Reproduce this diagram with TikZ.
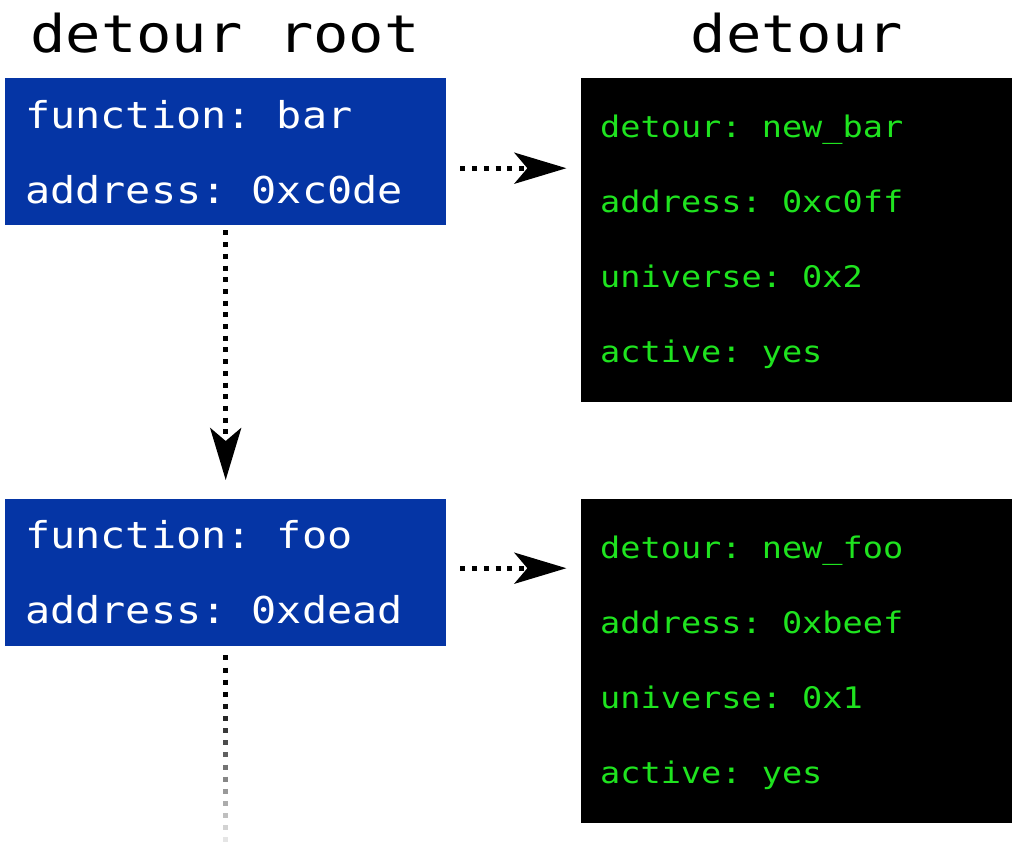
\documentclass[tikz,border=0pt]{standalone}
\usepackage{fontspec}
\setmonofont[FakeStretch=1.13]{DejaVu Sans Mono}
\usepackage{tikz}
\usetikzlibrary{arrows.meta}

\definecolor{rootblue}{HTML}{0535A5}
\definecolor{termgreen}{HTML}{1FE31F}

\tikzset{
	rootbox/.style={fill=rootblue, anchor=north west, inner sep=0pt,
		minimum width=441pt, minimum height=147pt},
	hookbox/.style={fill=black, anchor=north west, inner sep=0pt,
		minimum width=431pt, minimum height=324pt},
	headline/.style={font=\fontsize{52}{60}\selectfont\ttfamily, anchor=base, inner sep=0pt},
	roottext/.style={font=\fontsize{37}{44}\selectfont\ttfamily, text=white,
		anchor=base west, inner sep=0pt},
	hooktext/.style={font=\fontsize{29.7}{36}\selectfont\ttfamily, text=termgreen,
		anchor=base west, inner sep=0pt},
	link/.style={line width=5pt, dash pattern=on 5pt off 6.7pt,
		-{Stealth[length=52pt,width=31pt,inset=13pt]}}
}

\begin{document}
\begin{tikzpicture}[x=1pt,y=-1pt]
	\useasboundingbox (0,0) rectangle (1012,841);

	% column heads
	\node[headline] (roothead) at (225,52) {detour root};
	\node[headline] (hookhead) at (797,52) {detour};

	% detour roots
	\node[rootbox] (bar) at (5,78) {};
	\node[rootbox] (foo) at (5,499) {};
	\node[roottext] (barfn) at (25,128) {function: bar};
	\node[roottext] (baraddr) at (25,203) {address: 0xc0de};
	\node[roottext] (foofn) at (25,548) {function: foo};
	\node[roottext] (fooaddr) at (25,623) {address: 0xdead};

	% detours
	\node[hookbox] (newbar) at (581,78) {};
	\node[hookbox] (newfoo) at (581,499) {};
	\node[hooktext] (newbardet) at (600,137) {detour: new\_bar};
	\node[hooktext] (newbaraddr) at (600,212) {address: 0xc0ff};
	\node[hooktext] (newbaruni) at (600,287) {universe: 0x2};
	\node[hooktext] (newbaract) at (600,362) {active: yes};
	\node[hooktext] (newfoodet) at (600,558) {detour: new\_foo};
	\node[hooktext] (newfooaddr) at (600,633) {address: 0xbeef};
	\node[hooktext] (newfoouni) at (600,708) {universe: 0x1};
	\node[hooktext] (newfooact) at (600,783) {active: yes};

	\draw[link] ([xshift=14pt,yshift=-16.5pt]bar.east) -- ++(106,0);
	\draw[link] ([xshift=14pt,yshift=4.5pt]foo.east) -- ++(106,0);
	\draw[link] ([yshift=-5pt]bar.south) -- ([yshift=19pt]foo.north);

	% list goes on below foo, fading out
	\foreach \k in {0,...,15}{
		\pgfmathsetmacro{\shade}{min(100,100-(\k-3)*7.5)}
		\draw[line width=5pt, black!\shade] ([yshift=-9pt-\k*12.13pt]foo.south) -- ++(0,5);
	}
\end{tikzpicture}
\end{document}
